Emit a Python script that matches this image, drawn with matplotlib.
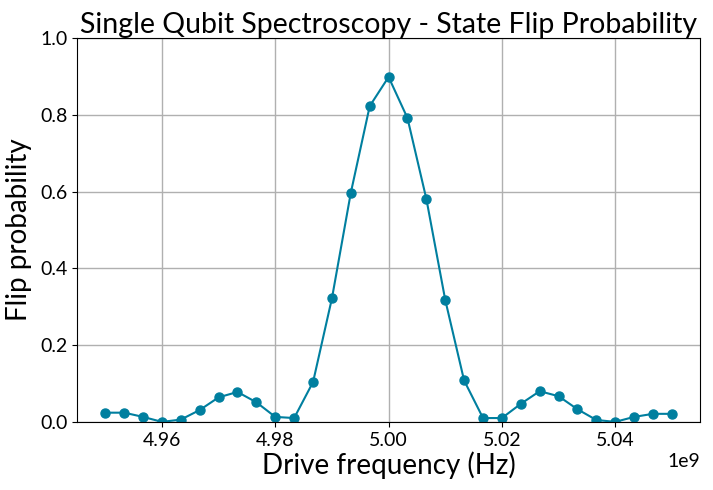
import numpy as np
import matplotlib
matplotlib.use("Agg")
import matplotlib.pyplot as plt

freqs_ghz = [4.95, 4.95333, 4.95667, 4.96, 4.96333, 4.96667, 4.97, 4.97333, 4.97667, 4.98,
             4.98333, 4.98667, 4.99, 4.99333, 4.99667, 5.00, 5.00333, 5.00667, 5.01, 5.01333,
             5.01667, 5.02, 5.02333, 5.02667, 5.03, 5.03333, 5.03667, 5.04, 5.04333, 5.04667, 5.05]
flip_prob = [0.024, 0.024, 0.013, 0.0, 0.006, 0.031, 0.064, 0.078, 0.051, 0.013,
             0.010, 0.104, 0.322, 0.597, 0.823, 0.899, 0.792, 0.581, 0.318, 0.108,
             0.010, 0.010, 0.047, 0.080, 0.067, 0.033, 0.005, 0.0, 0.013, 0.021, 0.021]

x = np.array(freqs_ghz) * 1e9
y = np.array(flip_prob)

plt.rcParams['font.family'] = ['Lato', 'DejaVu Sans']
fig, ax = plt.subplots(figsize=(7.13, 4.9), dpi=100)
ax.plot(x, y, '-o', color='#007f9f', lw=1.5, ms=6.5)
ax.set_ylim(0, 1.0)
ax.grid(True, color='#b0b0b0', lw=1)
ax.set_axisbelow(True)
ax.set_title('Single Qubit Spectroscopy - State Flip Probability', fontsize=20.5, pad=3)
ax.set_xlabel('Drive frequency (Hz)', fontsize=20, labelpad=2)
ax.set_ylabel('Flip probability', fontsize=20, labelpad=6)
ax.tick_params(labelsize=14)
ax.xaxis.get_offset_text().set_fontsize(14)
fig.subplots_adjust(left=0.108, right=0.982, top=0.922, bottom=0.139)
fig.savefig('out.png', dpi=100)
